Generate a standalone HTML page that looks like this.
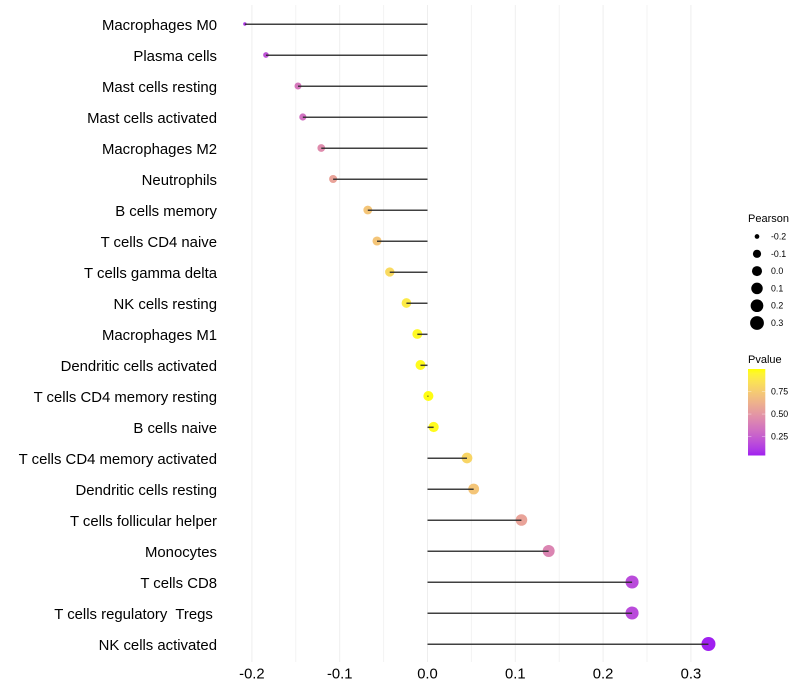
<!DOCTYPE html>
<html lang="en">
<head>
<meta charset="utf-8">
<title>Pearson lollipop chart</title>
<style>
html,body{margin:0;padding:0;background:#fff;}
#chart{display:block;width:800px;height:700px;font-family:"Liberation Sans",sans-serif;}
text{white-space:pre;}
</style>
</head>
<body>
<svg id="chart" width="800" height="700" viewBox="0 0 800 700" xmlns="http://www.w3.org/2000/svg">
<defs>
<linearGradient id="pvalue-gradient" x1="0" y1="1" x2="0" y2="0"></linearGradient>
</defs>
<rect width="800" height="700" fill="#ffffff"></rect>
<g id="grid"></g>
<g id="marks"></g>
<g id="y-axis"></g>
<g id="x-axis"></g>
<g id="size-legend">
<text x="748" y="222" font-size="11" fill="#000">Pearson</text>
</g>
<g id="color-legend">
<text x="748" y="363" font-size="11" fill="#000">Pvalue</text>
</g>
</svg>
<script>
const cellTypes = ["Macrophages M0","Plasma cells","Mast cells resting","Mast cells activated","Macrophages M2","Neutrophils","B cells memory","T cells CD4 naive","T cells gamma delta","NK cells resting","Macrophages M1","Dendritic cells activated","T cells CD4 memory resting","B cells naive","T cells CD4 memory activated","Dendritic cells resting","T cells follicular helper","Monocytes","T cells CD8","T cells regulatory  Tregs ","NK cells activated"];
const pearsonValues = [-0.208,-0.184,-0.1475,-0.142,-0.121,-0.1075,-0.068,-0.0575,-0.043,-0.024,-0.0116,-0.008,0.001,0.007,0.045,0.0526,0.107,0.138,0.233,0.233,0.32];
const pValues = [0.1,0.2,0.36,0.33,0.45,0.56,0.72,0.72,0.82,0.9,0.97,0.98,0.99,0.98,0.8,0.72,0.56,0.42,0.17,0.17,0.04];
const xTickValues = [-0.2,-0.1,0,0.1,0.2,0.3];
const xMinorTickValues = [-0.15,-0.05,0.05,0.15,0.25];
const sizeLegendValues = [-0.2,-0.1,0,0.1,0.2,0.3];
const colorLegendValues = [0.25,0.5,0.75];
const colorDomain = [0.04,1];

const NS = "http://www.w3.org/2000/svg";
const PANEL_TOP = 5, PANEL_BOTTOM = 662;
const xScale = v => 427.5 + v * 878;
const yScale = i => 24 + i * 31;
const pearsonMin = Math.min(...pearsonValues);
const pearsonMax = Math.max(...pearsonValues);
const radiusScale = v => {
  const t = Math.max(0, Math.min(1, (v - pearsonMin) / (pearsonMax - pearsonMin)));
  return 1.7 + 5.3 * Math.sqrt(t);
};

function rgb2lab(c) {
  const f = u => { u /= 255; return u > 0.04045 ? Math.pow((u + 0.055) / 1.055, 2.4) : u / 12.92; };
  const r = f(c[0]), g = f(c[1]), b = f(c[2]);
  const x = (0.4124564 * r + 0.3575761 * g + 0.1804375 * b) / 0.95047;
  const y = 0.2126729 * r + 0.7151522 * g + 0.072175 * b;
  const z = (0.0193339 * r + 0.119192 * g + 0.9503041 * b) / 1.08883;
  const h = t => t > 0.008856 ? Math.cbrt(t) : 7.787 * t + 16 / 116;
  return [116 * h(y) - 16, 500 * (h(x) - h(y)), 200 * (h(y) - h(z))];
}
function lab2rgb(l) {
  const fy = (l[0] + 16) / 116, fx = fy + l[1] / 500, fz = fy - l[2] / 200;
  const h = t => t * t * t > 0.008856 ? t * t * t : (t - 16 / 116) / 7.787;
  const x = h(fx) * 0.95047, y = h(fy), z = h(fz) * 1.08883;
  const lin = [3.2404542 * x - 1.5371385 * y - 0.4985314 * z, -0.969266 * x + 1.8760108 * y + 0.041556 * z, 0.0556434 * x - 0.2040259 * y + 1.0572252 * z];
  return lin.map(u => {
    const s = u > 0.0031308 ? 1.055 * Math.pow(u, 1 / 2.4) - 0.055 : 12.92 * u;
    return Math.round(Math.max(0, Math.min(1, s)) * 255);
  });
}
const labLow = rgb2lab([160, 32, 240]);
const labHigh = rgb2lab([255, 255, 0]);
const colorScale = p => {
  const t = Math.max(0, Math.min(1, (p - colorDomain[0]) / (colorDomain[1] - colorDomain[0])));
  const c = lab2rgb(labLow.map((a, i) => a + (labHigh[i] - a) * t));
  return "rgb(" + c.join(",") + ")";
};

function make(tag, attrs, parent, txt) {
  const el = document.createElementNS(NS, tag);
  for (const k in attrs) el.setAttribute(k, attrs[k]);
  if (txt !== undefined) el.textContent = txt;
  parent.appendChild(el);
  return el;
}
const fmt = v => v.toFixed(1);
const slug = s => s.trim().toLowerCase().replace(/\s+/g, "-");

const grid = document.getElementById("grid");
xMinorTickValues.forEach(v => {
  const el = make("line", {x1: xScale(v), x2: xScale(v), y1: PANEL_TOP, y2: PANEL_BOTTOM, stroke: "#f3f3f3", "stroke-width": 1}, grid);
  
  
});
xTickValues.forEach(v => {
  const el = make("line", {x1: xScale(v), x2: xScale(v), y1: PANEL_TOP, y2: PANEL_BOTTOM, stroke: "#eeeeee", "stroke-width": 1}, grid);
  
  
});

const marks = document.getElementById("marks");
cellTypes.forEach((name, i) => {
  const dot = make("circle", {cx: xScale(pearsonValues[i]), cy: yScale(i), r: radiusScale(pearsonValues[i]), fill: colorScale(pValues[i])}, marks);
  
  
});
cellTypes.forEach((name, i) => {
  const seg = make("line", {x1: xScale(0), x2: xScale(pearsonValues[i]), y1: yScale(i) + 0.3, y2: yScale(i) + 0.3, stroke: "#2b2b2b", "stroke-width": 1.5, "stroke-opacity": 0.9}, marks);
  
  
});

const yAxis = document.getElementById("y-axis");
cellTypes.forEach((name, i) => {
  const lab = make("text", {x: 217, y: yScale(i) + 6, "text-anchor": "end", "font-size": 14.9, fill: "#000"}, yAxis, name);
  
  
});

const xAxis = document.getElementById("x-axis");
xTickValues.forEach(v => {
  const lab = make("text", {x: xScale(v), y: 678.6, "text-anchor": "middle", "font-size": 14.8, fill: "#000"}, xAxis, fmt(v));
  
  
});

const sizeLegend = document.getElementById("size-legend");
sizeLegendValues.forEach((v, i) => {
  const y = 236.5 + i * 17.3;
  const key = make("circle", {cx: 757, cy: y, r: radiusScale(v), fill: "#000"}, sizeLegend);
  
  
  const lab = make("text", {x: 771, y: y + 3, "font-size": 8.8, fill: "#000"}, sizeLegend, fmt(v));
  
  
});

const gradient = document.getElementById("pvalue-gradient");
for (let s = 0; s <= 20; s++) {
  const t = s / 20;
  make("stop", {offset: t, "stop-color": colorScale(colorDomain[0] + t * (colorDomain[1] - colorDomain[0]))}, gradient);
}
const BAR_TOP = 369, BAR_BOTTOM = 455.5;
const barY = p => BAR_BOTTOM - (p - colorDomain[0]) / (colorDomain[1] - colorDomain[0]) * (BAR_BOTTOM - BAR_TOP);
const colorLegend = document.getElementById("color-legend");
const bar = make("rect", {x: 748, y: BAR_TOP, width: 17.3, height: BAR_BOTTOM - BAR_TOP, fill: "url(#pvalue-gradient)"}, colorLegend);


colorLegendValues.forEach(p => {
  const y = barY(p);
  const t1 = make("line", {x1: 748, x2: 751.4, y1: y, y2: y, stroke: "#fff", "stroke-opacity": 0.6, "stroke-width": 0.6}, colorLegend);
  
  
  const t2 = make("line", {x1: 761.9, x2: 765.3, y1: y, y2: y, stroke: "#fff", "stroke-opacity": 0.6, "stroke-width": 0.6}, colorLegend);
  
  
  const lab = make("text", {x: 771, y: y + 3, "font-size": 8.8, fill: "#000"}, colorLegend, p.toFixed(2));
  
  
});
</script>
</body>
</html>
